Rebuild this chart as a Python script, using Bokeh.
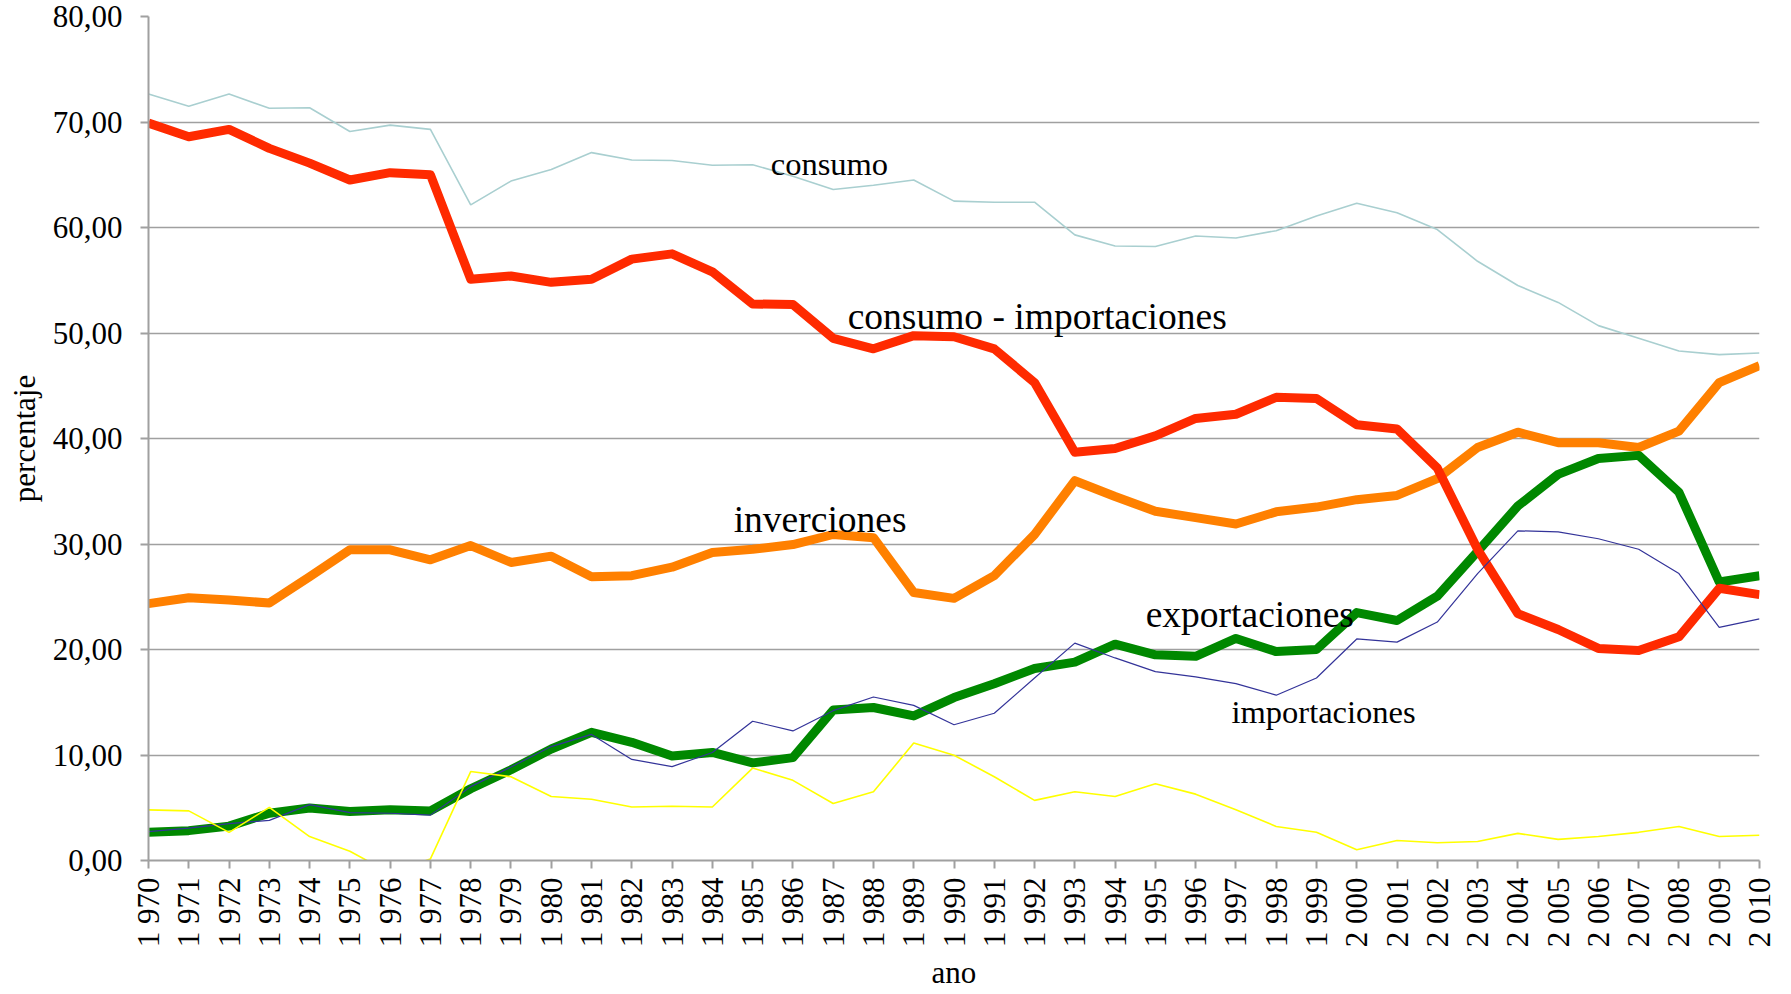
import numpy as np
from bokeh.plotting import figure
from bokeh.models import Range1d, FixedTicker, Label
from bokeh.embed import file_html
from bokeh.resources import INLINE

# ---------------- data ----------------
years = list(range(1970, 2011))

consumo = [72.65, 71.5, 72.65, 71.3, 71.35, 69.1, 69.7, 69.3, 62.15, 64.4,
           65.5, 67.1, 66.4, 66.35, 65.9, 65.95, 64.85, 63.6, 64.0, 64.5,
           62.5, 62.4, 62.4, 59.3, 58.25, 58.2, 59.2, 59.0, 59.7, 61.1,
           62.3, 61.4, 59.8, 56.8, 54.5, 52.9, 50.7, 49.5, 48.3, 47.95, 48.1]

consumo_menos_importaciones = [69.9, 68.6, 69.3, 67.5, 66.1, 64.5, 65.2, 65.0, 55.1, 55.4,
                               54.8, 55.1, 57.0, 57.5, 55.8, 52.75, 52.7, 49.5, 48.5, 49.75,
                               49.65, 48.5, 45.3, 38.7, 39.05, 40.25, 41.9, 42.3, 43.9, 43.8,
                               41.3, 40.9, 37.2, 29.5, 23.4, 21.9, 20.1, 19.9, 21.2, 25.8, 25.2]

inverciones = [24.35, 24.9, 24.7, 24.4, 26.9, 29.45, 29.45, 28.5, 29.85, 28.25,
               28.85, 26.9, 27.0, 27.8, 29.2, 29.5, 29.95, 30.9, 30.6, 25.4,
               24.85, 27.0, 30.9, 36.0, 34.5, 33.1, 32.5, 31.9, 33.05, 33.5,
               34.2, 34.6, 36.2, 39.15, 40.6, 39.6, 39.6, 39.15, 40.7, 45.3, 46.9]

exportaciones = [2.67, 2.83, 3.26, 4.48, 4.97, 4.64, 4.8, 4.7, 6.8, 8.6,
                 10.57, 12.15, 11.2, 9.9, 10.24, 9.25, 9.75, 14.26, 14.5, 13.7,
                 15.44, 16.76, 18.2, 18.8, 20.5, 19.5, 19.35, 21.05, 19.8, 20.0,
                 23.5, 22.75, 25.05, 29.3, 33.6, 36.6, 38.1, 38.4, 34.9, 26.4, 27.0]

importaciones = [2.73, 3.06, 3.5, 3.8, 5.3, 4.54, 4.48, 4.3, 7.0, 8.86,
                 10.8, 11.95, 9.58, 8.9, 10.24, 13.2, 12.28, 14.2, 15.5, 14.7,
                 12.87, 13.96, 17.3, 20.6, 19.2, 17.9, 17.4, 16.76, 15.67, 17.3,
                 21.0, 20.7, 22.6, 27.2, 31.25, 31.15, 30.5, 29.5, 27.2, 22.1, 22.9]

serie_amarilla = [4.8, 4.7, 2.67, 5.04, 2.27, 0.88, -1.2, 0.15, 8.43, 7.94,
                  6.06, 5.8, 5.07, 5.14, 5.07, 8.76, 7.6, 5.4, 6.52, 11.13,
                  9.98, 7.94, 5.7, 6.52, 6.06, 7.28, 6.29, 4.8, 3.23, 2.67,
                  1.02, 1.9, 1.68, 1.8, 2.57, 2.0, 2.27, 2.67, 3.23, 2.27, 2.4]

y_ticks = [0, 10, 20, 30, 40, 50, 60, 70, 80]

# ---------------- figure ----------------
FONT = "Liberation Serif"
GRID = "#A0A0A0"

p = figure(width=1791, height=994, output_backend="svg", toolbar_location=None,
           x_range=Range1d(years[0], years[-1]), y_range=Range1d(0, 80),
           min_border_left=148, min_border_right=32, min_border_top=16,
           min_border_bottom=134)
p.outline_line_color = None
p.background_fill_color = "white"
p.border_fill_color = "white"

p.xgrid.grid_line_color = None
p.ygrid.ticker = FixedTicker(ticks=y_ticks)
p.ygrid.grid_line_color = GRID
p.ygrid.grid_line_width = 1.6

# y axis
p.yaxis.ticker = FixedTicker(ticks=y_ticks)
p.yaxis.major_label_overrides = {t: f"{t},00" for t in y_ticks}
p.yaxis.axis_label = "percentaje"
p.yaxis.major_label_standoff = 18

# x axis
p.xaxis.ticker = FixedTicker(ticks=years)
p.xaxis.major_label_overrides = {y: f"{y // 1000} {y % 1000:03d}" for y in years}
p.xaxis.major_label_orientation = np.pi / 2
p.xaxis.axis_label = "ano"
p.xaxis.major_label_standoff = 9

for ax in (p.xaxis[0], p.yaxis[0]):
    ax.axis_line_color = GRID
    ax.axis_line_width = 2
    ax.major_tick_line_color = GRID
    ax.major_tick_line_width = 2
    ax.major_tick_out = 8
    ax.major_tick_in = 0
    ax.minor_tick_line_color = None
    ax.major_label_text_font = FONT
    ax.major_label_text_font_size = "31px"
    ax.major_label_text_color = "black"
    ax.axis_label_text_font = FONT
    ax.axis_label_text_font_size = "31px"
    ax.axis_label_text_font_style = "normal"
    ax.axis_label_text_color = "black"
    ax.axis_label_standoff = 8

p.xaxis.axis_label_standoff = 5

# ---------------- lines ----------------
p.line(years, inverciones, line_color="#FF8000", line_width=9, line_join="round")
p.line(years, exportaciones, line_color="#008800", line_width=9, line_join="round")
p.line(years, consumo_menos_importaciones, line_color="#FF2A00", line_width=9, line_join="round")
p.line(years, consumo, line_color="#A9CFD0", line_width=1.6)
p.line(years, importaciones, line_color="#333399", line_width=1.2)
p.line(years, serie_amarilla, line_color="#FFFF00", line_width=1.6)

# ---------------- annotations ----------------
etiquetas = [
    ("consumo", 1985.45, 66.0, "32.5px"),
    ("consumo - importaciones", 1987.36, 51.55, "37.5px"),
    ("inverciones", 1984.53, 32.3, "37.5px"),
    ("exportaciones", 1994.76, 23.32, "37.5px"),
    ("importaciones", 1996.89, 14.08, "32.5px"),
]
for txt, lx, ly, fs in etiquetas:
    p.add_layout(Label(x=lx, y=ly, text=txt, text_font=FONT, text_font_size=fs,
                       text_color="black", text_align="left",
                       text_baseline="alphabetic"))

open("out.html", "w").write(file_html(p, INLINE))
